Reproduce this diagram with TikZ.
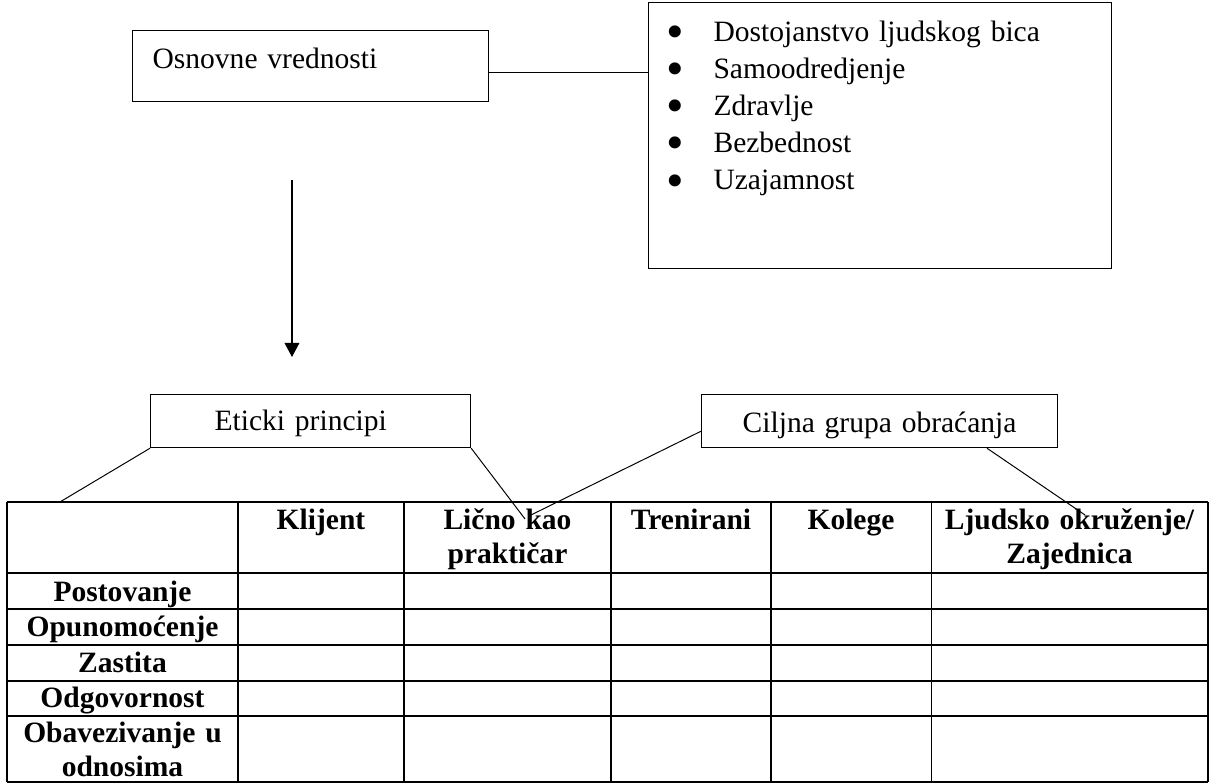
\documentclass[tikz,border=0pt]{standalone}
\usepackage{fontspec}
\setmainfont{Liberation Serif}
\usepackage{tikz}
\usetikzlibrary{arrows.meta}
\newcommand{\bigbullet}{\makebox[0.614cm][l]{\hspace*{-1.5pt}\smash{\raisebox{-2.9pt}{\scalebox{1.7}{\textbullet}}}}}
\tikzstyle{arrow} = [line width=0.45pt,-{Triangle[width=2.1mm,length=2mm]}]
\tikzstyle{textbox} = [rectangle, draw, line width=0.5pt, inner ysep=0pt, font=\fontsize{12}{15.1}\selectfont]
\tikzstyle{link} = [line width=0.4pt]
\tikzstyle{grid} = [line width=0.6pt]
\tikzstyle{head} = [inner sep=0pt, anchor=base, text width=3.9cm, align=center, font=\bfseries\fontsize{12}{13.8}\selectfont]

\begin{document}
\begin{tikzpicture}
\useasboundingbox (0,0) rectangle (17.343,11.2);

% Core values
\node[textbox, anchor=north west, inner xsep=0.286cm, text width=4.514cm, align=left, text height=0.543cm, text depth=0.471cm] (osn) at (1.886,10.771) {Osnovne vrednosti};
\node[textbox, anchor=north west, inner xsep=0.314cm, text width=5.986cm, align=left, text height=0.553cm, text depth=3.247cm] (vals) at (9.257,11.171) {%
\bigbullet Dostojanstvo ljudskog bica\\
\bigbullet Samoodredjenje\\
\bigbullet Zdravlje\\
\bigbullet Bezbednost\\
\bigbullet Uzajamnost};
\draw[link] (osn.east |- 0,10.161) -- (vals.west |- 0,10.161);

% Arrow down
\coordinate (arrtop) at (4.171,8.629);
\coordinate (arrtip) at (4.171,6.1);
\draw[arrow] (arrtop) -- (arrtip);

% Labels above the table
\node[textbox, anchor=north west, inner xsep=0.914cm, text width=2.743cm, align=left, text height=0.514cm, text depth=0.243cm] (eticki) at (2.143,5.571) {Eticki principi};
\node[textbox, anchor=north west, inner xsep=0.1cm, text width=4.886cm, align=center, text height=0.543cm, text depth=0.214cm] (ciljna) at (10.014,5.571) {Ciljna grupa obraćanja};

% Table grid
\foreach \y in {4.029,3.014,2.5,1.986,1.471,0.971,0.03}
  \draw[grid] (0.1,\y) -- (17.257,\y);
\foreach \x in {0.1,3.4,5.771,8.729,11.014,17.257}
  \draw[grid] (\x,4.029) -- (\x,0.03);
\draw[link] (13.3,4.029) -- (13.3,0.03);

% Column heads
\node[head] (klijent) at (4.586,3.629) {Klijent};
\node[head] (licno) at (7.25,3.629) {Lično kao\\praktičar};
\node[head] (trenirani) at (9.871,3.629) {Trenirani};
\node[head] (kolege) at (12.157,3.629) {Kolege};
\node[head] (okruzenje) at (15.279,3.629) {Ljudsko okruženje/\\Zajednica};

% Row heads
\node[head] (postovanje) at (1.75,2.614) {Postovanje};
\node[head] (opunomocenje) at (1.75,2.1) {Opunomoćenje};
\node[head] (zastita) at (1.75,1.586) {Zastita};
\node[head] (odgovornost) at (1.75,1.086) {Odgovornost};
\node[head] (obavezivanje) at (1.75,0.586) {Obavezivanje u\\odnosima};

% Lines from labels into the table
\coordinate (etL) at (0.857,4.029);
\coordinate (etR) at (7.5,3.786);
\coordinate (ciL) at (7.586,3.843);
\coordinate (ciR) at (15.5,3.843);
\draw[link] (eticki.south west) -- (etL);
\draw[link] (eticki.south east) -- (etR);
\draw[link] ([yshift=0.243cm]ciljna.south west) -- (ciL);
\draw[link] ([xshift=4.086cm]ciljna.south west) -- (ciR);
\end{tikzpicture}
\end{document}
